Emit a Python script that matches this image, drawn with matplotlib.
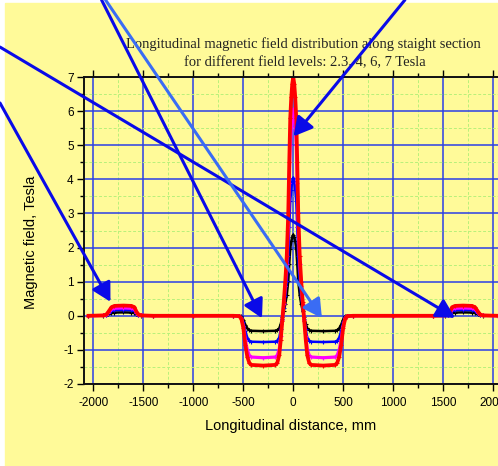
import numpy as np
import matplotlib
matplotlib.use("Agg")
from matplotlib import pyplot as plt
from matplotlib.patches import Rectangle
from matplotlib.ticker import MultipleLocator

plt.rcParams['axes.unicode_minus'] = False

# longitudinal position, mm
x_mm = [-2050, -1900, -1870, -1850, -1820, -1790, -1700, -1620, -1590, -1570, -1550, -1520,
        -1400, -1000, -600, -540, -520, -500, -480, -460, -440, -420, -300, -180, -160, -140,
        -125, -110, -95, -80, -65, -50, -40, -30, -20, -10, 0,
        10, 20, 30, 40, 50, 65, 80, 95, 110, 125, 140, 160, 180, 300, 420, 440, 460, 480, 500,
        520, 540, 600, 1000, 1400, 1520, 1550, 1570, 1590, 1620, 1700, 1790, 1820, 1850,
        1870, 1900, 2050]

# field, Tesla
b_23 = [0, 0, 0.01, 0.04, 0.08, 0.095, 0.1, 0.095, 0.08, 0.04, 0.01, 0,
        0, 0, 0, 0, -0.02, -0.11, -0.26, -0.37, -0.42, -0.44, -0.45, -0.44, -0.42, -0.37,
        -0.24, -0.05, 0.14, 0.34, 0.6, 1.02, 1.53, 1.97, 2.18, 2.31, 2.38,
        2.31, 2.18, 1.97, 1.53, 1.02, 0.6, 0.34, 0.14, -0.05, -0.24, -0.37, -0.42, -0.44, -0.45,
        -0.44, -0.42, -0.37, -0.26, -0.11, -0.02, 0, 0, 0, 0, 0, 0.01, 0.04, 0.08, 0.095,
        0.1, 0.095, 0.08, 0.04, 0.01, 0, 0]
b_4 = [0, 0.01, 0.02, 0.07, 0.14, 0.165, 0.17, 0.165, 0.14, 0.07, 0.02, 0.01,
       0, 0, 0, -0.01, -0.04, -0.19, -0.45, -0.64, -0.73, -0.76, -0.77, -0.76, -0.73, -0.64,
       -0.4, -0.09, 0.23, 0.58, 1.01, 1.74, 2.6, 3.36, 3.7, 3.94, 4.05,
       3.94, 3.7, 3.36, 2.6, 1.74, 1.01, 0.58, 0.23, -0.09, -0.4, -0.64, -0.73, -0.76, -0.77,
       -0.76, -0.73, -0.64, -0.45, -0.19, -0.04, -0.01, 0, 0, 0, 0.01, 0.02, 0.07, 0.14,
       0.165, 0.17, 0.165, 0.14, 0.07, 0.02, 0.01, 0]
b_6 = [0, 0.01, 0.03, 0.09, 0.19, 0.22, 0.23, 0.22, 0.19, 0.09, 0.03, 0.01,
       0, 0, 0, -0.01, -0.07, -0.3, -0.7, -1.0, -1.16, -1.21, -1.23, -1.21, -1.16, -0.98,
       -0.6, -0.13, 0.35, 0.86, 1.51, 2.59, 3.89, 5.01, 5.53, 5.88, 6.05,
       5.88, 5.53, 5.01, 3.89, 2.59, 1.51, 0.86, 0.35, -0.13, -0.6, -0.98, -1.16, -1.21, -1.23,
       -1.21, -1.16, -1.0, -0.7, -0.3, -0.07, -0.01, 0, 0, 0, 0.01, 0.03, 0.09, 0.19,
       0.22, 0.23, 0.22, 0.19, 0.09, 0.03, 0.01, 0]
b_7 = [0, 0.01, 0.04, 0.12, 0.25, 0.29, 0.3, 0.29, 0.25, 0.12, 0.04, 0.01,
       0, 0, 0, -0.01, -0.08, -0.35, -0.85, -1.2, -1.38, -1.44, -1.46, -1.44, -1.38, -1.15,
       -0.7, -0.15, 0.4, 1.0, 1.75, 3.0, 4.5, 5.8, 6.4, 6.8, 7.0,
       6.8, 6.4, 5.8, 4.5, 3.0, 1.75, 1.0, 0.4, -0.15, -0.7, -1.15, -1.38, -1.44, -1.46,
       -1.44, -1.38, -1.2, -0.85, -0.35, -0.08, -0.01, 0, 0, 0, 0.01, 0.04, 0.12, 0.25,
       0.29, 0.3, 0.29, 0.25, 0.12, 0.04, 0.01, 0]

# arrows: tip (data) and tail (figure fraction)
arrow_tips = [(-1830, 0.41), (1620, -0.06), (-313, -0.07), (287, -0.07), (3, 5.26)]
arrow_tails = [(0.0, 0.779), (0.0, 0.899), (0.204, 1.0), (0.212, 1.0), (0.813, 1.0)]
arrow_cols = ['#0a0ae8', '#0a0ae8', '#0a0ae8', '#3a6cf4', '#0a0ae8']

yellow = '#FFFA99'
fig = plt.figure(figsize=(4.98, 4.66), dpi=100, facecolor='white')
fig.patches.append(Rectangle((5/498, 0), 1, 463/466, transform=fig.transFigure,
                             color=yellow, zorder=-10))
ax = fig.add_axes([83.5/498, 82/466, 419.5/498, 307/466])
ax.set_facecolor(yellow)

ax.plot(x_mm, b_23, color='black', lw=1.8, marker='+', ms=3, mew=0.8)
ax.plot(x_mm, b_4, color='#0000ff', lw=1.8, marker='+', ms=3, mew=0.8)
ax.plot(x_mm, b_6, color='#ff00ff', lw=2.3, marker='+', ms=3, mew=0.8)
ax.plot(x_mm, b_7, color='#ff0000', lw=2.7, marker='+', ms=3.5, mew=0.8)

ax.set_xlim(-2100, 2100)
ax.set_ylim(-2, 7)
ax.xaxis.set_major_locator(MultipleLocator(500))
ax.xaxis.set_minor_locator(MultipleLocator(250))
ax.yaxis.set_major_locator(MultipleLocator(1))
ax.yaxis.set_minor_locator(MultipleLocator(0.5))
ax.grid(which='major', color='#2b3fe6', lw=1.1)
ax.grid(which='minor', color='#b8f07a', lw=0.7, ls=(0, (3, 2)))
ax.set_axisbelow(True)
ax.tick_params(which='both', direction='out', top=True, right=False, colors='black',
               labelsize=8.5, pad=2)
ax.tick_params(axis='x', which='major', pad=4)
ax.tick_params(which='major', length=5, width=1)
ax.tick_params(which='minor', length=3, width=1)
for s in ['left', 'bottom', 'top']:
    ax.spines[s].set_linewidth(1.4)
    ax.spines[s].set_color('#111111')
ax.spines['right'].set_visible(False)
for lab in ax.get_xticklabels() + ax.get_yticklabels():
    lab.set_family('Liberation Sans')

ax.text(303/498, 1 - 44/466, 'Longitudinal magnetic field distribution along staight section',
        transform=fig.transFigure, ha='center', va='center', fontsize=10.5,
        family='Liberation Serif', color='#222222', zorder=1)
ax.text(305/498, 1 - 63/466, 'for different field levels: 2.3, 4, 6, 7 Tesla',
        transform=fig.transFigure, ha='center', va='center', fontsize=10.5,
        family='Liberation Serif', color='#222222', zorder=1)
fig.text(291/498, 1 - 426/466, 'Longitudinal distance, mm', ha='center', va='center',
         fontsize=10.5, family='Liberation Sans')
fig.text(31/498, 1 - 242/466, 'Magnetic field, Tesla', ha='center', va='center',
         rotation=90, fontsize=10.5, family='Liberation Sans')

for tip, tail, c in zip(arrow_tips, arrow_tails, arrow_cols):
    ax.annotate('', xy=tip, xycoords='data', xytext=tail, textcoords='figure fraction',
                annotation_clip=False, zorder=10,
                arrowprops=dict(arrowstyle='-|>,head_length=0.4,head_width=0.22',
                                mutation_scale=28, lw=2.2, color=c,
                                shrinkA=0, shrinkB=0))

fig.savefig('out.png', dpi=100, facecolor=fig.get_facecolor())
